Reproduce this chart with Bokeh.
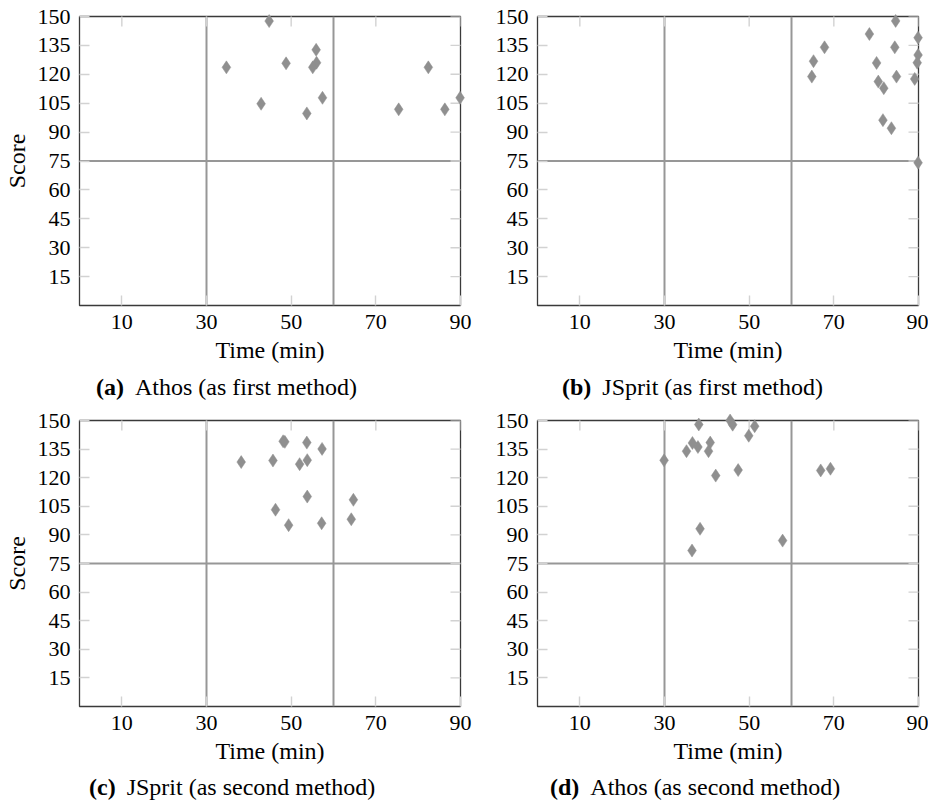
import math
from bokeh.plotting import figure
from bokeh.models import Span, FixedTicker, Range1d, Div
from bokeh.layouts import column, row
from bokeh.embed import file_html
from bokeh.resources import INLINE

# ---------------- data ----------------
x_ticks = [10, 30, 50, 70, 90]
y_ticks = [15, 30, 45, 60, 75, 90, 105, 120, 135, 150]
time_thresholds = [30, 60]
score_threshold = 75

athos_first_time = [34.7, 44.8, 48.8, 42.9, 55.9, 56.0, 55.1, 57.4, 53.7, 82.4, 75.4, 86.3, 89.9]
athos_first_score = [123.6, 147.6, 125.7, 104.7, 132.7, 126.0, 123.6, 107.8, 99.7, 123.6, 101.8, 101.8, 107.8]

jsprit_first_time = [84.6, 78.4, 89.9, 67.8, 84.4, 65.2, 80.1, 89.9, 89.7, 64.8, 84.8, 89.1, 80.5, 81.8, 81.6, 83.6, 89.9]
jsprit_first_score = [147.7, 140.9, 139.0, 134.0, 134.0, 126.8, 125.9, 130.0, 126.0, 118.8, 118.8, 117.6, 116.2, 112.8, 96.2, 92.0, 74.1]

jsprit_second_time = [48.1, 48.5, 53.7, 57.3, 38.2, 45.7, 52.0, 53.8, 53.8, 64.7, 46.3, 64.2, 49.4, 57.2]
jsprit_second_score = [139.1, 138.8, 138.4, 135.1, 128.2, 129.0, 127.1, 129.2, 110.1, 108.4, 103.2, 98.2, 95.1, 96.1]

athos_second_time = [45.5, 46.1, 38.1, 51.3, 49.9, 36.6, 37.9, 40.8, 35.2, 40.4, 29.9, 47.4, 42.1, 66.9, 69.2, 38.4, 36.5, 57.9]
athos_second_score = [150.0, 147.8, 147.9, 147.0, 142.0, 138.2, 136.1, 138.4, 133.9, 133.9, 129.1, 124.0, 121.1, 123.8, 124.7, 93.2, 81.8, 87.0]

captions = [("(a)", "Athos (as first method)"),
            ("(b)", "JSprit (as first method)"),
            ("(c)", "JSprit (as second method)"),
            ("(d)", "Athos (as second method)")]

FONT = "Liberation Serif"
MARK = "#8f8f8f"
LINE = "#979797"
TICK = "#d2d2d2"


def style_axis(ax, standoff):
    ax.axis_line_color = None
    ax.major_tick_in = 10
    ax.major_tick_out = 0
    ax.major_tick_line_color = TICK
    ax.major_tick_line_width = 1.4
    ax.minor_tick_line_color = None
    ax.major_label_text_font = FONT
    ax.major_label_text_color = "black"
    ax.major_label_standoff = standoff
    ax.major_label_text_font_size = "22px"
    ax.axis_label_text_font = FONT
    ax.axis_label_text_font_size = "24px"
    ax.axis_label_text_font_style = "normal"
    ax.axis_label_text_color = "black"


def panel(t, s, W, H, bl, br, bt, bb, ylabel):
    p = figure(width=W, height=H, x_range=Range1d(0, 90), y_range=Range1d(0, 150),
               output_backend="svg", toolbar_location=None,
               min_border_left=bl, min_border_right=br, min_border_top=bt, min_border_bottom=bb,
               x_axis_label="Time (min)", y_axis_label=("Score" if ylabel else None))
    p.grid.visible = False
    p.outline_line_color = "#3a3a3a"
    p.outline_line_width = 1.3
    p.background_fill_color = "white"
    p.border_fill_color = "white"

    xa = p.xaxis[0]
    ya = p.yaxis[0]
    xa.ticker = FixedTicker(ticks=x_ticks, minor_ticks=[])
    ya.ticker = FixedTicker(ticks=y_ticks, minor_ticks=[])
    style_axis(xa, 9)
    xa.axis_label_standoff = 5
    style_axis(ya, 9)
    ya.axis_label_standoff = 5

    for loc in time_thresholds:
        p.add_layout(Span(location=loc, dimension="height", line_color=LINE,
                          line_width=2, level="underlay"))
    p.add_layout(Span(location=score_threshold, dimension="width", line_color=LINE,
                      line_width=2, level="underlay"))

    # mirrored inner ticks on the top and right edges (half of each dash is clipped by the frame)
    p.scatter(x_ticks, [y_ticks[-1]] * len(x_ticks), marker="dash", angle=math.pi / 2,
              size=20, line_color=TICK, line_width=1.4)
    p.scatter([x_ticks[-1]] * len(y_ticks), y_ticks, marker="dash",
              size=20, line_color=TICK, line_width=1.4)

    r = p.scatter(t, s, marker="diamond", size=13, fill_color=MARK, line_color=MARK, line_width=0.5)
    r.level = "overlay"
    return p


def caption(cap, W, H, left, top, gap=11):
    html = ('<div style="font-family:\'Liberation Serif\',serif;font-size:24px;line-height:24px;'
            'color:black;white-space:nowrap;margin:0;padding:0;'
            f'position:absolute;left:{left}px;top:{top}px;">'
            f'<b>{cap[0]}</b><span style="margin-left:{gap}px">{cap[1]}</span></div>')
    return Div(text=html, width=W, height=H, margin=0, styles={"position": "relative", "overflow": "visible"})


WA, WB = 492, 436
# row 1: frame 16..305 ; row 2: frame 420..709 ; left frames at x=79 and x=537
pa = panel(athos_first_time, athos_first_score, WA, 366, 79, 32, 16, 61, True)
pb = panel(jsprit_first_time, jsprit_first_score, WB, 366, 45, 10, 16, 61, False)
pc = panel(jsprit_second_time, jsprit_second_score, WA, 359, 79, 32, 13, 57, True)
pd = panel(athos_second_time, athos_second_score, WB, 359, 45, 10, 13, 57, False)

ca = caption(captions[0], WA, 41, 96, 9)
cb = caption(captions[1], WB, 41, 70, 9)
cc = caption(captions[2], WA, 35, 89, 9)
cd = caption(captions[3], WB, 35, 58, 9)

layout = column(row(pa, pb), row(ca, cb), row(pc, pd), row(cc, cd))

open("out.html", "w").write(file_html(layout, INLINE))
